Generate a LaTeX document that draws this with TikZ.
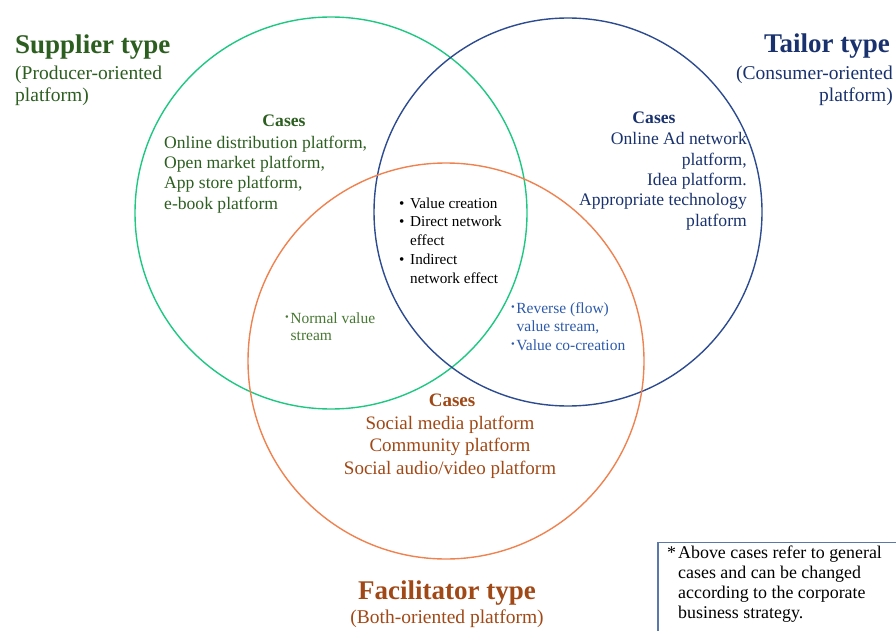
\documentclass[tikz,border=0pt]{standalone}
\usepackage{fontspec}
\setmainfont{Liberation Serif}
\usetikzlibrary{positioning}
\definecolor{supgreen}{RGB}{44,94,32}
\definecolor{supring}{RGB}{30,200,130}
\definecolor{supsoft}{RGB}{70,120,50}
\definecolor{tailblue}{RGB}{25,50,110}
\definecolor{tailring}{RGB}{45,75,145}
\definecolor{tailsoft}{RGB}{45,90,170}
\definecolor{facbrown}{RGB}{160,72,22}
\definecolor{facring}{RGB}{240,130,80}
\definecolor{noteedge}{RGB}{90,120,170}
\newcommand{\smallbul}{\raisebox{2.4pt}{\fontsize{10.5}{10.5}\selectfont\textbullet}\hspace{1.5pt}}
\newcommand{\bigbul}{\makebox[11pt][l]{\textbullet}}
% multi-line nodes are anchored at the baseline of their last line
\tikzset{
  ring/.style={line width=1.4pt},
  ttl/.style={font=\bfseries\fontsize{27}{30}\selectfont,inner sep=0pt},
  subttl/.style={font=\fontsize{19.5}{21.5}\selectfont,inner sep=0pt},
  cases/.style={font=\fontsize{17.6}{20.3}\selectfont,inner sep=0pt},
  casesb/.style={cases,font=\bfseries\fontsize{17.6}{20.3}\selectfont},
  pts/.style={font=\fontsize{15.2}{18.7}\selectfont,inner sep=0pt,align=left},
  softpts/.style={pts,font=\fontsize{15.5}{18.5}\selectfont},
  notebox/.style={draw=noteedge,line width=1.6pt,minimum width=260pt,minimum height=110pt,inner sep=0pt},
}

\begin{document}
\begin{tikzpicture}[x=1pt,y=-1pt]
  % three platform circles
  \draw[ring,draw=supring]  (331,213) circle (196);
  \draw[ring,draw=tailring] (568,212) circle (194);
  \draw[ring,draw=facring]  (446,361) circle (198);

  % type titles
  \node[ttl,text=supgreen,anchor=base west] (suptitle) at (15,54) {Supplier type};
  \node[subttl,text=supgreen,anchor=base west,align=left] (supsub) at (15,101.5)
    {(Producer-oriented\\platform)};
  \node[ttl,text=tailblue,anchor=base east] (tailtitle) at (890,53) {Tailor type};
  \node[subttl,text=tailblue,anchor=base east,align=right] (tailsub) at (893,101.5)
    {(Consumer-oriented\\platform)};
  \node[ttl,text=facbrown,anchor=base] (factitle) at (447,599) {Facilitator type};
  \node[subttl,text=facbrown,anchor=base] (facsub) at (447,623)
    {(Both-oriented platform)};

  % cases
  \node[casesb,text=supgreen,anchor=base] (supcase) at (284,127) {Cases};
  \node[cases,text=supgreen,anchor=base west,align=left] (suplist) at (164,209)
    {Online distribution platform,\\Open market platform,\\App store platform,\\e-book platform};
  \node[casesb,text=tailblue,anchor=base] (tailcase) at (654,124) {Cases};
  \node[cases,text=tailblue,anchor=base east,align=right] (taillist) at (747,226)
    {Online Ad network\\platform,\\Idea platform.\\Appropriate technology\\platform};
  \node[casesb,text=facbrown,anchor=base,font=\bfseries\fontsize{19}{22}\selectfont] (faccase) at (452,406) {Cases};
  \node[cases,text=facbrown,anchor=base,align=center,font=\fontsize{19}{22.5}\selectfont] (faclist) at (450,474)
    {Social media platform\\Community platform\\Social audio/video platform};

  % overlap features
  \node[pts,anchor=base west] (core) at (399,283)
    {\bigbul Value creation\\\bigbul Direct network\\\hspace*{11pt}effect\\
     \bigbul Indirect\\\hspace*{11pt}network effect};
  \node[softpts,text=supsoft,anchor=base west,font=\fontsize{15.5}{17.5}\selectfont] (normal) at (285,340.5)
    {\smallbul Normal value\\\hspace*{5.5pt}stream};
  \node[softpts,text=tailsoft,anchor=base west] (reverse) at (511,350)
    {\smallbul Reverse (flow)\\\hspace*{5.5pt}value stream,\\\smallbul Value co-creation};

  % note
  \node[notebox,anchor=north west] (noteframe) at (657,541.5) {};
  \node[cases,anchor=base west,align=left,font=\fontsize{17.9}{20.1}\selectfont] (note) at (667,618.5)
    {\makebox[11pt][l]{*}Above cases refer to general\\\hspace*{11pt}cases and can be changed\\
     \hspace*{11pt}according to the corporate\\\hspace*{11pt}business strategy.};

  \pgfresetboundingbox
  \useasboundingbox (0,0) rectangle (896,631);
\end{tikzpicture}
\end{document}
